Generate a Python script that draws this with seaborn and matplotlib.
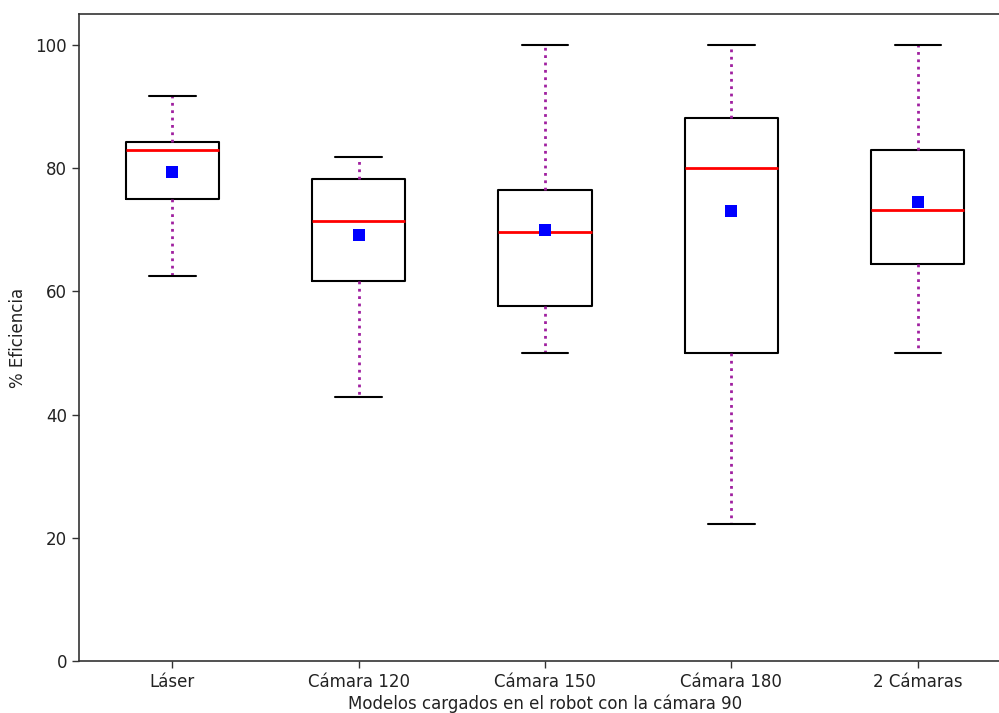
import matplotlib
matplotlib.use("Agg")
from matplotlib import pyplot as plt
import seaborn as sns
import pandas as pd

# estadísticas (% eficiencia)
modelos = ["Láser", "Cámara 120", "Cámara 150", "Cámara 180", "2 Cámaras"]
minimos = [62.5, 42.9, 50.0, 22.2, 50.0]
q1 = [75.0, 61.7, 57.6, 50.0, 64.4]
medianas = [83.0, 71.4, 69.6, 80.0, 73.2]
q3 = [84.3, 78.3, 76.4, 88.1, 83.0]
maximos = [91.7, 81.8, 100.0, 100.0, 100.0]
medias = [79.4, 69.1, 70.0, 73.0, 74.5]

sns.set_style("white")
plt.rcParams['font.family'] = ['DejaVu Sans']

fig = plt.figure(figsize=(9.99, 7.13), dpi=100)
ax = fig.add_axes([79 / 999, 1 - 661 / 713, (1011 - 79) / 999, (661 - 14) / 713])

stats = [
    dict(label=m, whislo=lo, q1=a, med=md, q3=b, whishi=hi, fliers=[])
    for m, lo, a, md, b, hi in zip(modelos, minimos, q1, medianas, q3, maximos)
]
ax.bxp(stats, positions=range(1, len(modelos) + 1), widths=0.5, showfliers=False,
       boxprops=dict(color="black", linewidth=1.5),
       medianprops=dict(color="red", linewidth=2),
       whiskerprops=dict(color="#a020a0", linestyle=":", linewidth=2),
       capprops=dict(color="black", linewidth=1.5))

df = pd.DataFrame({"pos": range(1, len(modelos) + 1), "media": medias})
sns.scatterplot(data=df, x="pos", y="media", ax=ax, marker="s", color="blue",
                s=64, edgecolor="blue", linewidth=0, zorder=5)

ax.set_xlim(0.5, 5.5)
ax.set_ylim(0, 105)
ax.set_xticks(range(1, len(modelos) + 1))
ax.set_xticklabels(modelos)
ax.set_yticks([0, 20, 40, 60, 80, 100])
ax.tick_params(axis="both", labelsize=12, length=5, width=1, direction="out",
               bottom=True, left=True, color="#333333", labelcolor="#222222")
for s in ax.spines.values():
    s.set_color("#333333")
    s.set_linewidth(1.2)
ax.set_xlabel("Modelos cargados en el robot con la cámara 90", fontsize=12, labelpad=3,
              color="#222222")
ax.set_ylabel("% Eficiencia", fontsize=12, labelpad=6, color="#222222")

fig.savefig("out.png", dpi=100)
